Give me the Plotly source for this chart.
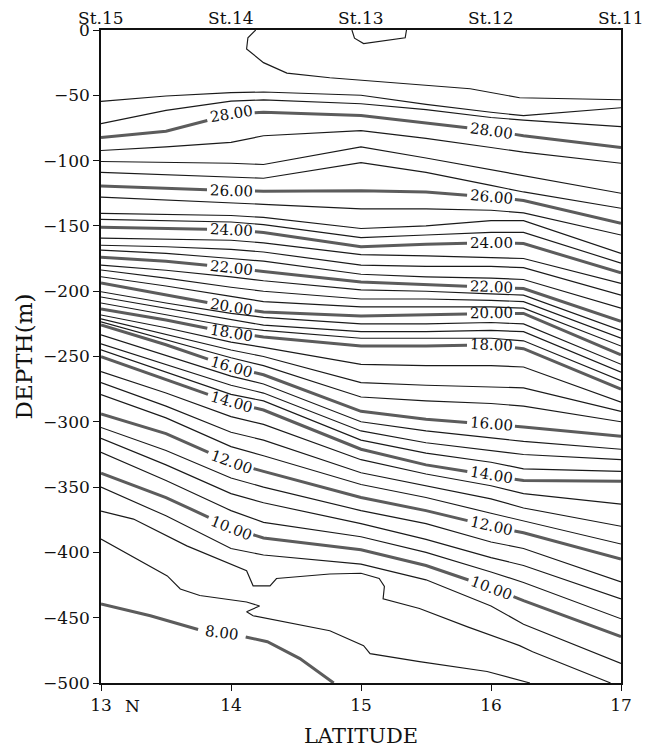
import numpy as np
import plotly.graph_objects as go

# ---------------- figure geometry ----------------
# the page body adds an 8px margin, so the figure is drawn 8px in from the corner
W, H = 644, 748
ML, MR, MT, MB = 93, 31, 21, 71
LAT_MIN, LAT_MAX = 13.0, 17.0
DEP_MIN, DEP_MAX = -500.0, 0.0

# ---------------- data ----------------
STATION_LAT = [13, 14, 15, 16, 17]
STATION_NAMES = ["St.15", "St.14", "St.13", "St.12", "St.11"]
X_TICKS = [13, 14, 15, 16, 17]
Y_TICKS = list(range(0, -501, -50))

# common latitude grid for the regular isotherms
LATS = [13.0, 13.5, 14.0, 14.25, 15.0, 15.5, 16.0, 16.25, 17.0]

ISOTHERMS = [29.0, 28.5, 28.0, 27.5, 27.0, 26.5, 26.0, 25.5, 25.0, 24.5,
             24.0, 23.5, 23.0, 22.5, 22.0, 21.5, 21.0, 20.5, 20.0, 19.5,
             19.0, 18.5, 18.0, 17.5, 17.0, 16.5, 16.0, 15.5, 15.0, 14.5,
             14.0, 13.5, 13.0, 12.5, 12.0, 11.5, 11.0, 10.5, 10.0, 9.5]

# depth (m) of each isotherm at LATS
DEPTHS = [
    [-54.7, -50.5, -48.0, -47.5, -50.0, -57.0, -63.0, -65.6, -59.5],    # 29.0
    [-71.7, -61.5, -54.5, -53.5, -56.5, -61.0, -67.0, -69.0, -74.0],    # 28.5
    [-82.4, -77.5, -64.5, -63.0, -65.5, -71.0, -77.0, -81.0, -90.0],    # 28.0
    [-92.3, -89.5, -86.0, -81.0, -77.0, -83.0, -90.0, -93.5, -102.0],   # 27.5
    [-100.7, -101.5, -102.0, -103.0, -89.5, -98.0, -107.0, -111.5, -125.0],  # 27.0
    [-109.0, -111.0, -113.0, -113.5, -101.5, -109.0, -119.0, -124.0, -136.5],  # 26.5
    [-119.5, -121.0, -123.0, -123.5, -123.0, -124.0, -128.0, -130.5, -148.0],  # 26.0
    [-128.0, -130.0, -132.0, -133.5, -137.0, -137.0, -138.0, -140.0, -157.0],  # 25.5
    [-140.4, -141.0, -142.0, -143.5, -152.0, -150.0, -146.0, -146.0, -171.0],  # 25.0
    [-145.0, -146.0, -147.0, -149.0, -159.0, -157.0, -155.0, -155.0, -178.5],  # 24.5
    [-151.0, -152.0, -153.0, -155.0, -166.0, -164.0, -163.0, -163.5, -186.0],  # 24.0
    [-159.4, -160.0, -161.0, -163.0, -172.0, -173.0, -174.0, -175.0, -194.0],  # 23.5
    [-164.8, -166.0, -168.0, -170.0, -180.0, -181.0, -181.0, -182.0, -203.0],  # 23.0
    [-168.6, -171.0, -175.0, -177.0, -187.0, -189.0, -190.0, -191.0, -213.0],  # 22.5
    [-174.0, -177.0, -182.0, -185.0, -193.0, -195.0, -197.0, -198.0, -223.0],  # 22.0
    [-180.0, -184.0, -189.0, -192.0, -199.0, -200.0, -202.0, -203.0, -230.0],  # 21.5
    [-183.8, -190.0, -197.0, -200.0, -206.0, -206.0, -207.0, -208.0, -236.0],  # 21.0
    [-188.9, -196.0, -204.0, -208.0, -212.0, -212.0, -212.0, -213.0, -242.0],  # 20.5
    [-193.8, -203.0, -212.0, -216.0, -219.0, -218.0, -217.0, -217.0, -248.7],  # 20.0
    [-200.4, -209.0, -217.0, -220.0, -225.0, -225.0, -224.0, -225.0, -256.0],  # 19.5
    [-204.4, -213.0, -222.0, -226.0, -231.0, -231.0, -230.0, -231.0, -262.0],  # 19.0
    [-209.0, -218.0, -227.0, -230.0, -236.0, -236.0, -236.0, -238.0, -268.5],  # 18.5
    [-213.6, -222.0, -232.0, -235.0, -242.0, -242.0, -241.0, -244.0, -275.0],  # 18.0
    [-218.2, -228.0, -239.0, -243.0, -256.0, -257.0, -257.0, -258.0, -285.0],  # 17.5
    [-221.2, -233.0, -245.0, -250.0, -270.0, -272.0, -273.0, -274.0, -292.0],  # 17.0
    [-223.5, -237.0, -251.0, -257.0, -281.0, -284.0, -286.0, -288.0, -300.0],  # 16.5
    [-225.8, -241.0, -258.0, -264.0, -292.0, -298.0, -302.0, -304.0, -311.0],  # 16.0
    [-233.4, -249.0, -265.0, -271.0, -300.0, -307.0, -312.0, -315.0, -321.0],  # 15.5
    [-240.3, -256.0, -272.0, -278.0, -307.0, -316.0, -322.0, -325.0, -329.0],  # 15.0
    [-244.9, -262.0, -279.0, -284.0, -314.0, -324.0, -331.0, -336.0, -338.0],  # 14.5
    [-250.2, -268.0, -285.0, -291.0, -321.0, -333.0, -341.0, -345.0, -345.5],  # 14.0
    [-261.6, -278.0, -296.0, -302.0, -329.0, -340.0, -349.0, -355.0, -363.0],  # 13.5
    [-270.0, -288.0, -308.0, -314.0, -339.0, -349.0, -359.0, -366.0, -380.0],  # 13.0
    [-279.2, -297.0, -319.0, -326.0, -348.0, -358.0, -370.0, -376.0, -393.6],  # 12.5
    [-294.0, -309.0, -331.0, -338.0, -358.0, -368.0, -380.0, -385.0, -405.0],  # 12.0
    [-304.3, -322.0, -343.0, -350.0, -368.0, -378.0, -392.0, -397.0, -422.6],  # 11.5
    [-312.7, -333.0, -355.0, -362.0, -378.0, -390.0, -404.0, -410.0, -435.6],  # 11.0
    [-323.4, -345.0, -368.0, -377.0, -388.0, -400.0, -415.0, -423.0, -450.8],  # 10.5
    [-339.4, -358.0, -381.0, -389.0, -398.0, -410.0, -427.0, -437.0, -464.5],  # 10.0
    [-350.0, -372.0, -397.0, -402.0, -409.0, -421.0, -441.0, -455.0, -485.0],  # 9.5
]

# irregular isotherms traced individually
T30_LAT = [14.93, 14.95, 15.02, 15.34, 15.35]
T30_DEPTH = [0.0, -6.3, -10.4, -5.9, 0.0]

T295_LAT = [14.19, 14.13, 14.12, 14.25, 14.43, 14.76, 15.84, 16.22, 17.0]
T295_DEPTH = [0.0, -6.0, -14.5, -25.0, -33.0, -36.6, -45.0, -51.9, -53.4]

T90_LAT = [13.0, 13.25, 13.66, 14.12, 14.17, 14.3, 14.35, 14.76, 15.0, 15.14,
           15.18, 15.17, 15.45, 15.82, 16.22, 16.32, 16.92]
T90_DEPTH = [-368.4, -374.5, -395.0, -414.0, -425.6, -425.6, -420.0, -416.5, -416.0, -420.0,
             -426.0, -435.6, -443.0, -457.0, -471.4, -476.0, -500.0]

T85_LAT = [13.0, 13.51, 13.61, 13.76, 14.12, 14.22, 14.12, 14.17, 14.76, 15.02,
           15.07, 15.45, 15.97, 16.3]
T85_DEPTH = [-389.8, -418.0, -428.0, -433.0, -438.0, -441.0, -445.5, -448.5, -460.0, -471.4,
             -477.5, -483.6, -491.2, -500.0]

T80_LAT = [13.0, 13.38, 13.78, 14.07, 14.28, 14.53, 14.76, 14.79]
T80_DEPTH = [-439.4, -448.5, -460.0, -463.8, -468.4, -481.3, -498.0, -500.0]

LABEL_LATS = [14.0, 16.0]   # where thick isotherms carry their value
T80_LABEL_LAT = [13.93]

# ---------------- styling ----------------
INK = "#111111"
THIN = dict(color="#1a1a1a", width=1.15)
THICK = dict(color="#5c5c5c", width=3.0)
SERIF = "DejaVu Serif"

SX = (W - ML - MR) / (LAT_MAX - LAT_MIN)      # px per degree
SY = (H - MT - MB) / (DEP_MAX - DEP_MIN)      # px per metre

fig = go.Figure()
annotations = []


def add_trace(x, y, style):
    fig.add_trace(go.Scatter(x=x, y=y, mode="lines", line=style,
                             hoverinfo="skip", showlegend=False))


def labelled_line(lats, depths, temp, label_lats):
    lats = np.asarray(lats, float)
    depths = np.asarray(depths, float)
    gaps = []
    for l0 in label_lats:
        h = 0.12
        d0 = float(np.interp(l0, lats, depths))
        d1 = float(np.interp(l0 - h, lats, depths))
        d2 = float(np.interp(l0 + h, lats, depths))
        ang = -np.degrees(np.arctan2((d2 - d1) * SY, 2 * h * SX))
        half = 24.0 * np.cos(np.radians(ang)) / SX
        gaps.append((l0 - half, l0 + half))
        annotations.append(dict(x=l0, y=d0, xref="x", yref="y", text=f"{temp:.2f}",
                                showarrow=False, textangle=ang,
                                font=dict(family=SERIF, size=15, color=INK)))
    xs, ys = [], []
    start = lats[0]
    bounds = []
    for a, b in sorted(gaps):
        bounds.append((start, a))
        start = b
    bounds.append((start, lats[-1]))
    for s, e in bounds:
        pts = [(s, np.interp(s, lats, depths))]
        pts += [(l, d) for l, d in zip(lats, depths) if s < l < e]
        pts += [(e, np.interp(e, lats, depths))]
        for l, d in pts:
            xs.append(float(l))
            ys.append(float(d))
        xs.append(None)
        ys.append(None)
    add_trace(xs, ys, THICK)


# regular isotherms
for temp, row in zip(ISOTHERMS, DEPTHS):
    if temp % 2 == 0:
        labelled_line(LATS, row, temp, LABEL_LATS)
    else:
        add_trace(LATS, row, THIN)

# irregular isotherms
add_trace(T30_LAT, T30_DEPTH, THIN)
add_trace(T295_LAT, T295_DEPTH, THIN)
add_trace(T90_LAT, T90_DEPTH, THIN)
add_trace(T85_LAT, T85_DEPTH, THIN)
labelled_line(T80_LAT, T80_DEPTH, 8.0, T80_LABEL_LAT)

# station names along the top
for lat, name in zip(STATION_LAT, STATION_NAMES):
    annotations.append(dict(x=lat, y=1, xref="x", yref="paper", text=name,
                            showarrow=False, yanchor="bottom", yshift=1,
                            borderpad=0,
                            font=dict(family=SERIF, size=17, color=INK)))

# "N" after the first latitude tick label
annotations.append(dict(x=X_TICKS[0], y=0, xref="x", yref="paper", text="N",
                        showarrow=False, yanchor="middle", yshift=-23, xshift=31,
                        font=dict(family=SERIF, size=17, color=INK)))

axis_common = dict(showline=True, linecolor=INK, linewidth=1.6, mirror=True,
                   showgrid=False, zeroline=False, ticks="outside", ticklen=6,
                   tickwidth=1.4, tickcolor=INK,
                   tickfont=dict(family=SERIF, size=17, color=INK))

fig.update_layout(
    width=W, height=H,
    margin=dict(l=ML, r=MR, t=MT, b=MB),
    paper_bgcolor="white", plot_bgcolor="white",
    font=dict(family=SERIF, color=INK),
    xaxis=dict(range=[LAT_MIN, LAT_MAX], tickvals=X_TICKS,
               title=dict(text="LATITUDE", standoff=14,
                          font=dict(family=SERIF, size=21, color=INK)),
               **axis_common),
    yaxis=dict(range=[DEP_MIN, DEP_MAX], tickvals=Y_TICKS,
               title=dict(text="DEPTH(m)", standoff=4,
                          font=dict(family=SERIF, size=23, color=INK)),
               **axis_common),
    annotations=annotations,
)

fig.write_html("out.html")
